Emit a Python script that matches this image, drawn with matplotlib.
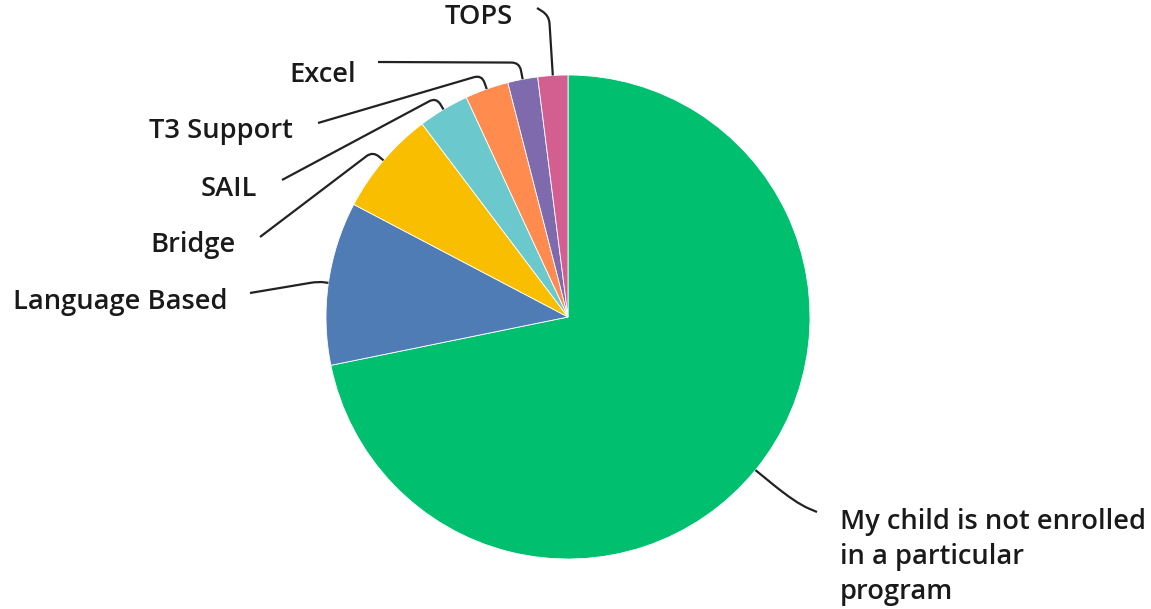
import numpy as np
import matplotlib.pyplot as plt
from matplotlib.path import Path
from matplotlib.patches import PathPatch

# data (share of respondents, %), clockwise from 12 o'clock
labels = ['My child is not enrolled\nin a particular\nprogram', 'Language Based', 'Bridge',
          'SAIL', 'T3 Support', 'Excel', 'TOPS']
shares = [71.8, 10.9, 7.0, 3.4, 2.9, 2.0, 2.0]
colors = ['#00BF6F', '#507CB6', '#F9BE00', '#6BC8CD', '#FF8B4F', '#7F6AAD', '#D25F90']

# label layout in image pixels (x, y from top), alignment
text_pos = [(840, 557, 'left', 'center'), (228, 302, 'right', 'center'), (236, 245, 'right', 'center'),
            (257, 189, 'right', 'center'), (293, 131, 'right', 'center'), (356, 75, 'right', 'center'),
            (513, 17, 'right', 'center')]
line_start = [(817, 512), (250, 293), (260, 237), (282, 180), (318, 123), (378, 62), (537, 8)]
line_ext = [52, 10, 14, 14, 15, 17, 60]
bend = [30, 8, 8, 8, 8, 8, 8]

W, H = 1151, 609
fig = plt.figure(figsize=(W / 100, H / 100), dpi=100)
ax = fig.add_axes([0, 0, 1, 1])
cx, cy, r = 568, H - 317, 242

wedges, _ = ax.pie(shares, colors=colors, startangle=90, counterclock=False,
                   center=(cx, cy), radius=r,
                   wedgeprops=dict(edgecolor='white', linewidth=0.6))
ax.set_xlim(0, W)
ax.set_ylim(0, H)
ax.set_aspect('equal')
ax.axis('off')

for w, lab, (tx, ty, ha, va), (sx, sy), ext, b in zip(wedges, labels, text_pos, line_start, line_ext, bend):
    mid = np.deg2rad((w.theta1 + w.theta2) / 2)
    edge = np.array([cx + r * np.cos(mid), cy + r * np.sin(mid)])
    corner = np.array([cx + (r + ext) * np.cos(mid), cy + (r + ext) * np.sin(mid)])
    start = np.array([sx, H - sy])
    d1 = start - corner
    d2 = edge - corner
    q1 = corner + d1 / np.linalg.norm(d1) * min(b, 0.6 * np.linalg.norm(d1))
    q2 = corner + d2 / np.linalg.norm(d2) * min(b, 0.6 * np.linalg.norm(d2))
    path = Path([start, q1, corner, q2, edge],
                [Path.MOVETO, Path.LINETO, Path.CURVE3, Path.CURVE3, Path.LINETO])
    ax.add_patch(PathPatch(path, fill=False, edgecolor='#222222', linewidth=1.6))
    ax.text(tx, H - ty, lab, ha=ha, va=va, fontsize=19.6, family='Open Sans',
            weight='semibold', color='#1a1a1a', linespacing=1.32)

fig.savefig('out.png', dpi=100, facecolor='white')
